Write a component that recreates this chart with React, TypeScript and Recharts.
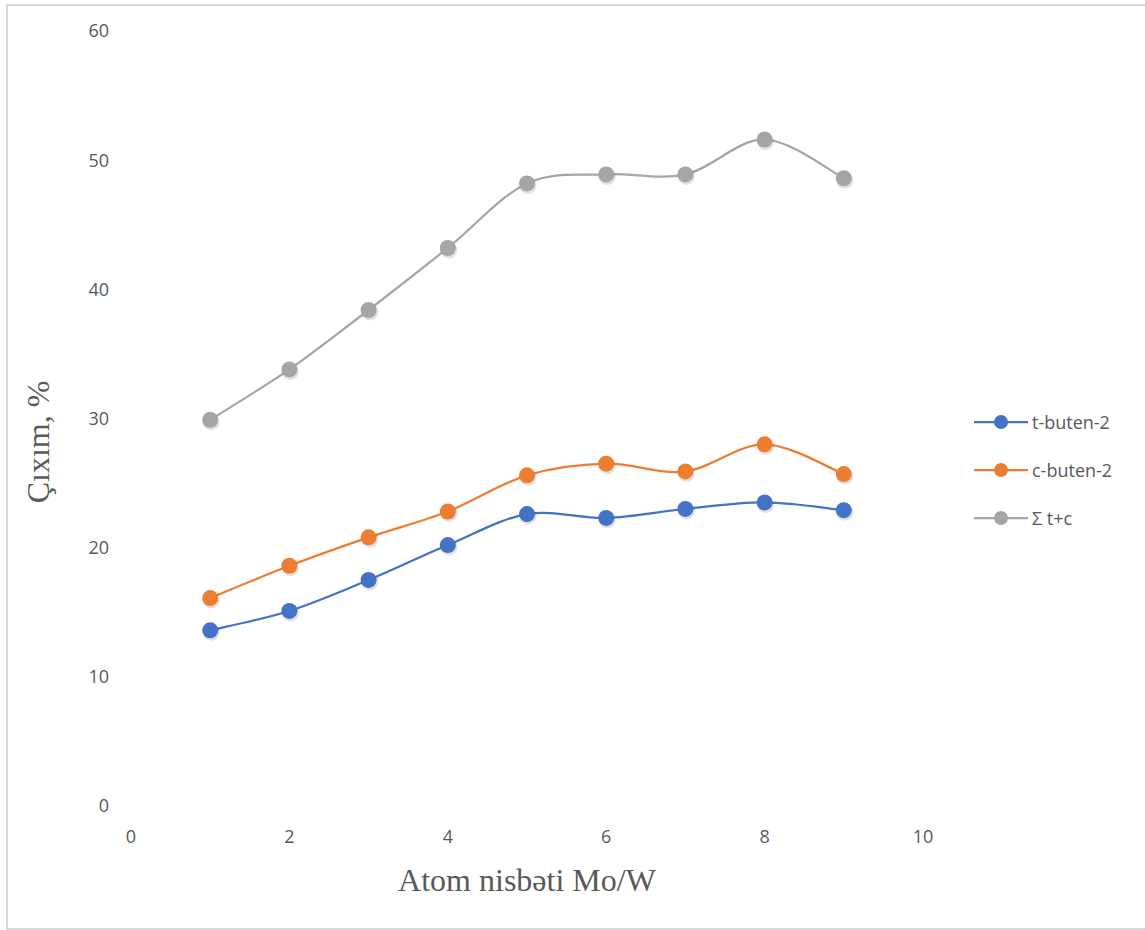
import React from "react";
import { LineChart, Line, XAxis, YAxis, Legend } from "recharts";

const xValues = [1, 2, 3, 4, 5, 6, 7, 8, 9];
const tButen = [13.6, 15.1, 17.5, 20.2, 22.6, 22.3, 23.0, 23.5, 22.9];
const cButen = [16.1, 18.6, 20.8, 22.8, 25.6, 26.5, 25.9, 28.0, 25.7];
const sumTC = [29.9, 33.8, 38.4, 43.2, 48.2, 48.9, 48.9, 51.6, 48.6];
const xTicks = [0, 2, 4, 6, 8, 10];
const yTicks = [0, 10, 20, 30, 40, 50, 60];

const seriesNames = ["t-buten-2", "c-buten-2", "Σ t+c"];
const colors = ["#4472C4", "#ED7D31", "#A5A5A5"];

const data = xValues.map((x, i) => ({
  x,
  t: tButen[i],
  c: cButen[i],
  s: sumTC[i],
}));

// Excel-like smooth curve (Catmull-Rom bezier)
const excelCurve = (context: any) => {
  let pts: number[][] = [];
  return {
    areaStart() {},
    areaEnd() {},
    lineStart() {
      pts = [];
    },
    point(x: number, y: number) {
      pts.push([+x, +y]);
    },
    lineEnd() {
      if (!pts.length) return;
      context.moveTo(pts[0][0], pts[0][1]);
      for (let i = 0; i < pts.length - 1; i++) {
        const p0 = pts[i - 1] || pts[i];
        const p1 = pts[i];
        const p2 = pts[i + 1];
        const p3 = pts[i + 2] || pts[i + 1];
        const c1x = p1[0] + (p2[0] - p0[0]) / 6;
        const c1y = p1[1] + (p2[1] - p0[1]) / 6;
        const c2x = p2[0] - (p3[0] - p1[0]) / 6;
        const c2y = p2[1] - (p3[1] - p1[1]) / 6;
        context.bezierCurveTo(c1x, c1y, c2x, c2y, p2[0], p2[1]);
      }
    },
  };
};

const makeDot = (color: string) => (props: any) => {
  const { cx, cy, index } = props;
  if (cx == null || cy == null) return <g key={index} />;
  return (
    <g key={index}>
      <circle cx={cx + 1} cy={cy + 2} r={8.5} fill="rgba(0,0,0,0.12)" />
      <circle cx={cx} cy={cy} r={8} fill={color} />
    </g>
  );
};

const legendContent = () => (
  <div style={{ fontFamily: "'Open Sans', sans-serif", fontSize: 18, color: "#595959" }}>
    {seriesNames.map((n, i) => (
      <div key={n} style={{ display: "flex", alignItems: "center", height: 48 }}>
        <svg width={58} height={20} style={{ marginRight: 2 }}>
          <line x1={2} y1={10} x2={56} y2={10} stroke={colors[i]} strokeWidth={2.25} />
          <circle cx={29} cy={10} r={7} fill={colors[i]} />
        </svg>
        <span>{n}</span>
      </div>
    ))}
  </div>
);

const tickStyle = { fontFamily: "'Open Sans', sans-serif", fontSize: 18, fill: "#595959" };

export default function App() {
  return (
    <div
      style={{
        position: "absolute",
        left: 0,
        top: 0,
        width: 1145,
        height: 930,
        overflow: "hidden",
        background: "#fff",
      }}
    >
      <div
        style={{
          position: "absolute",
          left: 6,
          top: 4,
          width: 1160,
          height: 922,
          border: "2px solid #D9D9D9",
        }}
      />
      <div style={{ position: "absolute", left: 0, top: 0 }}>
        <LineChart
          width={1145}
          height={930}
          data={data}
          margin={{ top: 31, right: 222, left: 71, bottom: 94 }}
        >
          <XAxis
            dataKey="x"
            type="number"
            domain={[0, 10]}
            ticks={xTicks}
            axisLine={false}
            tickLine={false}
            tickMargin={18}
            height={30}
            tick={tickStyle}
          />
          <YAxis
            type="number"
            domain={[0, 60]}
            ticks={yTicks}
            axisLine={false}
            tickLine={false}
            tickMargin={16}
            width={60}
            tick={tickStyle}
          />
          <Legend
            content={legendContent}
            layout="horizontal"
            verticalAlign="middle"
            align="center"
            wrapperStyle={{ left: 972, top: 398, width: 170 }}
          />
          <Line
            dataKey="t"
            name={seriesNames[0]}
            stroke={colors[0]}
            strokeWidth={2.25}
            type={excelCurve as any}
            dot={makeDot(colors[0])}
            activeDot={false}
            isAnimationActive={false}
          />
          <Line
            dataKey="c"
            name={seriesNames[1]}
            stroke={colors[1]}
            strokeWidth={2.25}
            type={excelCurve as any}
            dot={makeDot(colors[1])}
            activeDot={false}
            isAnimationActive={false}
          />
          <Line
            dataKey="s"
            name={seriesNames[2]}
            stroke={colors[2]}
            strokeWidth={2.25}
            type={excelCurve as any}
            dot={makeDot(colors[2])}
            activeDot={false}
            isAnimationActive={false}
          />
        </LineChart>
      </div>
      <div
        style={{
          position: "absolute",
          left: 38,
          top: 442,
          transform: "translate(-50%, -50%) rotate(-90deg)",
          fontFamily: "'Liberation Serif', 'Times New Roman', serif",
          fontSize: 32,
          color: "#595959",
          whiteSpace: "nowrap",
        }}
      >
        Çıxım, %
      </div>
      <div
        style={{
          position: "absolute",
          left: 527,
          top: 880,
          transform: "translate(-50%, -50%)",
          fontFamily: "'Liberation Serif', 'Times New Roman', serif",
          fontSize: 32,
          color: "#595959",
          whiteSpace: "nowrap",
        }}
      >
        Atom nisbəti Mo/W
      </div>
    </div>
  );
}
